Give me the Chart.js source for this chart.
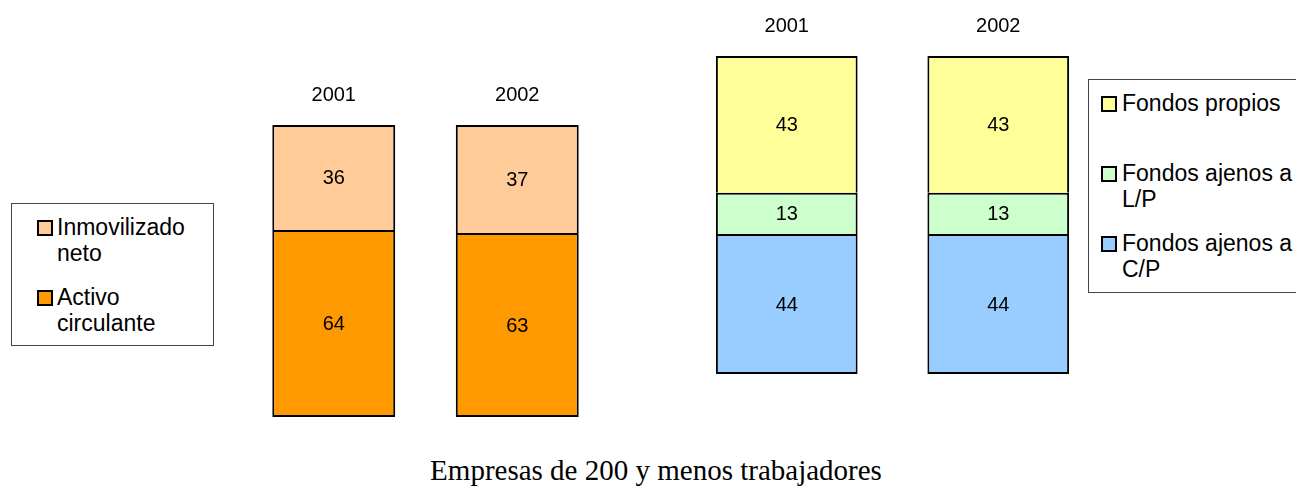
<!DOCTYPE html>
<html>
<head>
<meta charset="utf-8">
<script src="https://cdn.jsdelivr.net/npm/chart.js@4"></script>
<style>
  html, body { margin: 0; padding: 0; background: #fff; }
  body { width: 1296px; height: 488px; position: relative; overflow: hidden; font-family: "Liberation Sans", Arial, sans-serif; }
  .wrap { position: absolute; }
  .legend { position: absolute; border: 1px solid #444; background: #fff; box-sizing: border-box; padding: 10px 0 0 0; }
  .item { position: relative; min-height: 52px; margin-bottom: 18px; font-size: 23px; line-height: 26px; color: #000; }
  .item:last-child { margin-bottom: 0; }
  .swatch { position: absolute; width: 16px; height: 16px; box-sizing: border-box; border: 2px solid #000; top: 6px; }
  .title { position: absolute; left: 0; width: 1312px; top: 453px; text-align: center; font-family: "Liberation Serif", "Times New Roman", serif; font-size: 29px; line-height: 34px; color: #000; }
</style>
</head>
<body>
<div class="wrap" style="left:232px; top:65px; width:390px; height:354px;"><canvas id="activo"></canvas></div>
<div class="wrap" style="left:671px; top:-4px; width:445px; height:380px;"><canvas id="pasivo"></canvas></div>
<div class="legend" id="legendActivo" style="left:11px; top:203px; width:203px; height:143px;"></div>
<div class="legend" id="legendPasivo" style="left:1088px; top:79px; width:240px; height:214px;"></div>
<div class="title">Empresas de 200 y menos trabajadores</div>
<script>
// Datos (porcentajes)
const years = ['2001', '2002'];

const activoLabels = ['Activo circulante', 'Inmovilizado neto'];
const activoCirculante = [64, 63];
const inmovilizadoNeto = [36, 37];
const activoColors = ['#FF9900', '#FFCC99'];

const pasivoLabels = ['Fondos ajenos a C/P', 'Fondos ajenos a L/P', 'Fondos propios'];
const ajenosCP = [44, 44];
const ajenosLP = [13, 13];
const fondosPropios = [43, 43];
const pasivoColors = ['#99CCFF', '#CCFFCC', '#FFFF99'];

// writes the value in the middle of each segment
const valueLabels = {
    id: 'valueLabels',
    afterDatasetsDraw(chart) {
        const ctx = chart.ctx;
        ctx.save();
        ctx.font = '20px "Liberation Sans", Arial, sans-serif';
        ctx.fillStyle = '#000';
        ctx.textAlign = 'center';
        ctx.textBaseline = 'middle';
        chart.data.datasets.forEach((ds, i) => {
            chart.getDatasetMeta(i).data.forEach((bar, j) => {
                const p = bar.getCenterPoint();
                ctx.fillText(ds.data[j], p.x, p.y + 1);
            });
        });
        ctx.restore();
    }
};

function makeChart(id, seriesList, labels, colors, padding) {
    const ctx = document.getElementById(id).getContext('2d');
    return new Chart(ctx, {
        type: 'bar',
        data: {
            labels: years,
            datasets: seriesList.map((s, i) => ({
                label: labels[i],
                data: s,
                backgroundColor: colors[i],
                borderColor: '#000',
                // only the lowest segment keeps its bottom edge, so joins stay 2px
                borderWidth: { left: 2, right: 2, top: 2, bottom: i === 0 ? 2 : 0 },
                borderSkipped: false,
                barPercentage: 0.67,
                categoryPercentage: 1
            }))
        },
        options: {
            responsive: true,
            maintainAspectRatio: false,
            animation: false,
            layout: { padding: padding },
            plugins: { legend: { display: false }, tooltip: { enabled: false } },
            scales: {
                x: {
                    stacked: true,
                    position: 'top',
                    grid: { display: false, drawTicks: false },
                    border: { display: false },
                    ticks: { color: '#000', padding: 18, font: { family: '"Liberation Sans", Arial, sans-serif', size: 20 } }
                },
                y: {
                    stacked: true,
                    display: false,
                    min: 0,
                    max: 100
                }
            }
        },
        plugins: [valueLabels]
    });
}

makeChart('activo', [activoCirculante, inmovilizadoNeto], activoLabels, activoColors, { left: 10, right: 13, top: 0, bottom: 2 });
makeChart('pasivo', [ajenosCP, ajenosLP, fondosPropios], pasivoLabels, pasivoColors, { left: 10, right: 12, top: 0, bottom: 2 });

function buildLegend(id, labels, colors, textLeft, textWidth, swatchLeft) {
    const box = document.getElementById(id);
    for (let i = labels.length - 1; i >= 0; i--) {
        const item = document.createElement('div');
        item.className = 'item';
        item.style.paddingLeft = textLeft + 'px';
        item.style.width = textWidth + 'px';
        const sw = document.createElement('span');
        sw.className = 'swatch';
        sw.style.left = swatchLeft + 'px';
        sw.style.background = colors[i];
        item.appendChild(sw);
        item.appendChild(document.createTextNode(labels[i]));
        box.appendChild(item);
    }
}

buildLegend('legendActivo', activoLabels, activoColors, 45, 148, 25);
buildLegend('legendPasivo', pasivoLabels, pasivoColors, 33, 185, 12);
</script>
</body>
</html>
